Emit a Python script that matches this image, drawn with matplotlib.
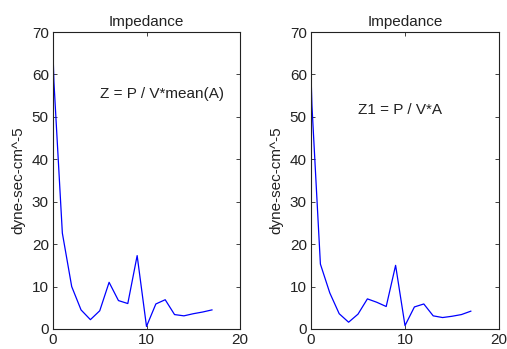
import matplotlib
matplotlib.use("Agg")
import matplotlib.pyplot as plt

x_left = [0, 0.1, 1, 2, 3, 4, 5, 6, 7, 8, 9, 10, 11, 12, 13, 14, 15, 16, 17]
z_mean = [65.3, 58.2, 22.6, 10.0, 4.5, 2.2, 4.3, 11.0, 6.7, 6.0, 17.3, 0.6, 5.9, 6.9, 3.4, 3.1, 3.6, 4.0, 4.5]
x_right = [0, 0.1, 1, 2, 3, 4, 5, 6, 7, 8, 9, 10, 11, 12, 13, 14, 15, 16, 17]
z1 = [60.2, 52.7, 15.3, 8.5, 3.6, 1.6, 3.5, 7.1, 6.3, 5.3, 15.0, 0.8, 5.2, 5.9, 3.1, 2.7, 3.0, 3.4, 4.2]
titles = ["Impedance", "Impedance"]
ylabel = "dyne-sec-cm^-5"
notes = ["Z = P / V*mean(A)", "Z1 = P / V*A"]
xticks = [0, 10, 20]
yticks = [0, 10, 20, 30, 40, 50, 60, 70]

plt.rcParams['font.family'] = ['Liberation Sans', 'DejaVu Sans']
fig = plt.figure(figsize=(5.07, 3.49), dpi=100)
W, H = 507, 349
axes_px = [(53, 32, 240, 329), (311, 32, 499, 329)]
series = [(x_left, z_mean), (x_right, z1)]
note_pos = [(5.0, 55.5), (5.0, 51.5)]
fs = 11
for i, (l, t, r, b) in enumerate(axes_px):
    ax = fig.add_axes([l / W, 1 - b / H, (r - l) / W, (b - t) / H])
    xs, ys = series[i]
    ax.plot(xs, ys, color='#0000ff', lw=0.9)
    ax.set_xlim(0, 20)
    ax.set_ylim(0, 70)
    ax.set_xticks(xticks)
    ax.set_yticks(yticks)
    ax.tick_params(direction='in', top=True, right=True, length=3, width=0.6,
                   labelsize=fs, colors='#222222', labelcolor='#222222', pad=3)
    for s in ax.spines.values():
        s.set_linewidth(0.8)
        s.set_color('#222222')
    ax.set_title(titles[i], fontsize=fs, color='#222222', pad=4)
    ax.set_ylabel(ylabel, fontsize=fs, color='#222222', labelpad=5)
    ax.text(note_pos[i][0], note_pos[i][1], notes[i], fontsize=fs, color='#222222',
            va='center', ha='left')

fig.savefig("out.png", dpi=100)
